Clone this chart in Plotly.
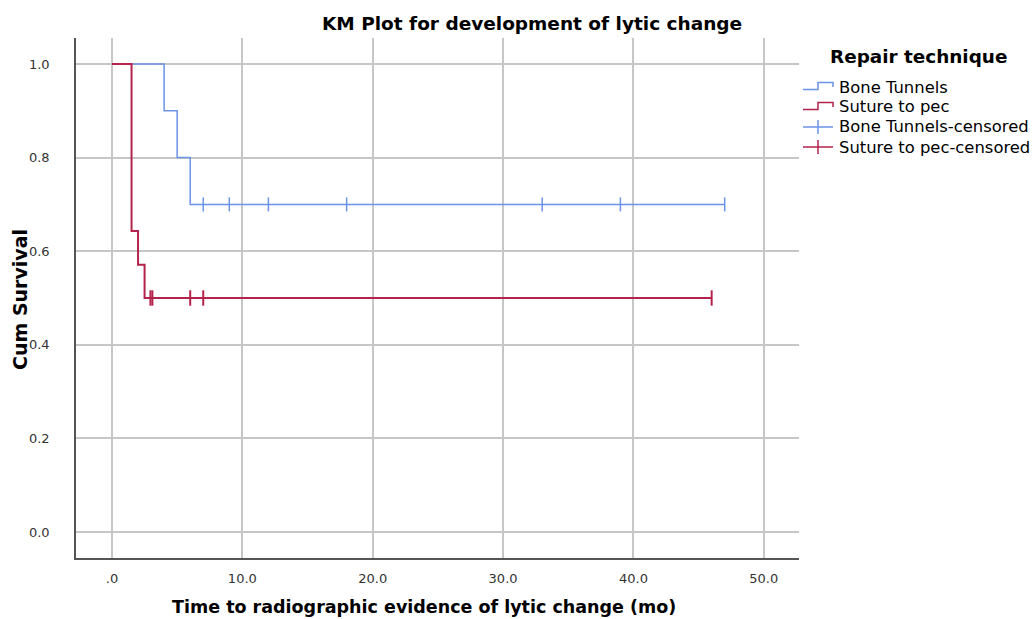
import plotly.graph_objects as go

# ---- data ----
bt_times = [0, 4, 5, 6, 47]
bt_surv = [1.0, 0.9, 0.8, 0.7, 0.7]
bt_cens_times = [7, 9, 12, 18, 33, 39, 47]
bt_cens_surv = [0.7, 0.7, 0.7, 0.7, 0.7, 0.7, 0.7]

sp_times = [0, 1.5, 2.0, 2.5, 46]
sp_surv = [1.0, 0.643, 0.571, 0.5, 0.5]
sp_cens_times = [2.95, 3.1, 6, 7, 46]
sp_cens_surv = [0.5, 0.5, 0.5, 0.5, 0.5]

x_tick_vals = [0, 10, 20, 30, 40, 50]
x_tick_text = [".0", "10.0", "20.0", "30.0", "40.0", "50.0"]
y_tick_vals = [0.0, 0.2, 0.4, 0.6, 0.8, 1.0]
y_tick_text = ["0.0", "0.2", "0.4", "0.6", "0.8", "1.0"]

series_names = ["Bone Tunnels", "Suture to pec", "Bone Tunnels-censored", "Suture to pec-censored"]
legend_title = "Repair technique"
chart_title = "KM Plot for development of lytic change"
x_title = "Time to radiographic evidence of lytic change (mo)"
y_title = "Cum Survival"

BLUE = "#6b93e8"
RED = "#b3234b"
FONT = "DejaVu Sans, Open Sans, sans-serif"

W, H = 1033, 619
L, R, T, B = 76, 799, 38, 558


def pxx(x):
    return (x - L) / (R - L)


def pyy(y):
    return (B - y) / (B - T)


fig = go.Figure()
fig.add_trace(go.Scatter(x=bt_times, y=bt_surv, mode="lines", line=dict(color=BLUE, width=1.5, shape="hv"),
                         name=series_names[0], showlegend=False))
fig.add_trace(go.Scatter(x=sp_times, y=sp_surv, mode="lines", line=dict(color=RED, width=2, shape="hv"),
                         name=series_names[1], showlegend=False))
fig.add_trace(go.Scatter(x=bt_cens_times, y=bt_cens_surv, mode="markers",
                         marker=dict(symbol="line-ns", size=10, line=dict(color=BLUE, width=1.5)),
                         name=series_names[2], showlegend=False))
fig.add_trace(go.Scatter(x=sp_cens_times, y=sp_cens_surv, mode="markers",
                         marker=dict(symbol="line-ns", size=11, line=dict(color=RED, width=2)),
                         name=series_names[3], showlegend=False))

axis_common = dict(showgrid=True, gridcolor="#c6c6c6", gridwidth=1.5, zeroline=False,
                   showline=True, linecolor="#555555", linewidth=1.5, ticks="",
                   tickfont=dict(family=FONT, size=13, color="#333333"))
fig.update_xaxes(range=[-2.76, 52.7], tickvals=x_tick_vals, ticktext=x_tick_text, ticklabelstandoff=8,
                 **axis_common)
fig.update_yaxes(range=[-0.0556, 1.0556], tickvals=y_tick_vals, ticktext=y_tick_text, ticklabelstandoff=22,
                 **axis_common)

annotations = [
    dict(text="<b>%s</b>" % chart_title, x=pxx(532), y=pyy(23), font=dict(size=18.5)),
    dict(text="<b>%s</b>" % x_title, x=pxx(424), y=pyy(607), font=dict(size=17.5)),
    dict(text="<b>%s</b>" % y_title, x=pxx(20), y=pyy(300), font=dict(size=19), textangle=-90),
    dict(text="<b>%s</b>" % legend_title, x=pxx(828), y=pyy(57), xanchor="left", font=dict(size=18.4)),
]
legend_y = [87, 107, 127, 147]
for name, yy in zip(series_names, legend_y):
    annotations.append(dict(text=name, x=pxx(837), y=pyy(yy), xanchor="left", font=dict(size=16.4)))

for a in annotations:
    a.setdefault("xanchor", "center")
    a.update(xref="paper", yref="paper", yanchor="middle", showarrow=False)
    a["font"].update(family=FONT, color="#000000")

shapes = []
# step icons
for yy, col in [(87, BLUE), (107, RED)]:
    lo, hi = yy + 2.5, yy - 4.5
    pts = [(803, lo), (818, lo), (818, hi), (833, hi), (833, yy)]
    path = "M " + " L ".join("%f,%f" % (pxx(a), pyy(b)) for a, b in pts)
    shapes.append(dict(type="path", path=path, xref="paper", yref="paper",
                       line=dict(color=col, width=1.5)))
# censored icons
for yy, col in [(127, BLUE), (147, RED)]:
    shapes.append(dict(type="line", x0=pxx(803), x1=pxx(833), y0=pyy(yy), y1=pyy(yy),
                       xref="paper", yref="paper", line=dict(color=col, width=1.5)))
    shapes.append(dict(type="line", x0=pxx(818), x1=pxx(818), y0=pyy(yy - 7), y1=pyy(yy + 7),
                       xref="paper", yref="paper", line=dict(color=col, width=1.5)))

fig.update_layout(width=W, height=H, margin=dict(l=L, r=W - R, t=T, b=H - B, autoexpand=False),
                  plot_bgcolor="white", paper_bgcolor="white", showlegend=False,
                  annotations=annotations, shapes=shapes)

fig.write_html("out.html", config={"displayModeBar": False},
               post_script="document.body.style.margin='0px';document.body.style.overflow='hidden';")
